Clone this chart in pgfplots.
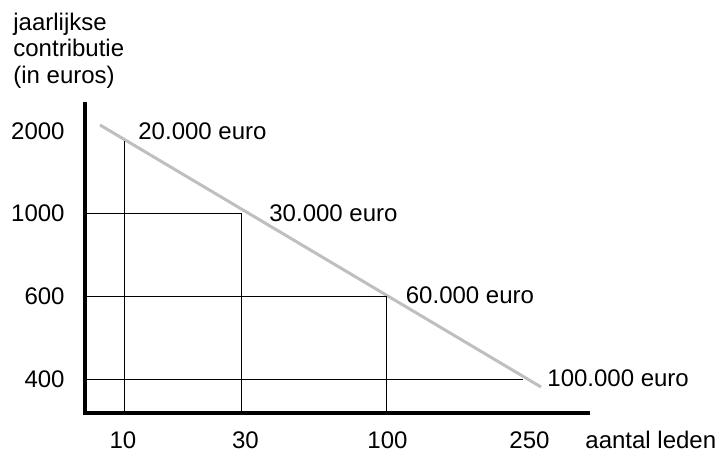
\documentclass[border=0pt]{standalone}
\usepackage{fontspec}
\setmainfont{Liberation Sans}
\usepackage{pgfplots}
\pgfplotsset{compat=1.18}

\begin{document}
\begin{tikzpicture}[font=\fontsize{12}{14.4}\selectfont]
\begin{axis}[
    x=0.5pt, y=0.5pt,
    xmin=85, xmax=588, ymin=38, ymax=347,
    axis lines=left,
    axis line style={-, line width=2pt, line cap=rect},
    clip=false,
    major tick length=0pt,
    xtick={123,245.5,387.5,529.5},
    xticklabels={10,30,100,250},
    ytick={320,238,155,72},
    yticklabels={2000,1000,600,400},
    ticklabel style={inner sep=0pt},
    xticklabel style={anchor=base, yshift=-17.75pt},
    yticklabel style={anchor=east, xshift=-10pt},
    /pgf/number format/assume math mode=true,
]
% grey line
\addplot[color=black!25, line width=1.5pt] coordinates {(100,326) (541,64)};
% helper lines
\addplot[black, line width=0.5pt] coordinates {(124,310) (124,38)};
\addplot[black, line width=0.5pt] coordinates {(85,238) (241,238) (241,38)};
\addplot[black, line width=0.5pt] coordinates {(85,155) (386,155) (386,38)};
\addplot[black, line width=0.5pt] coordinates {(85,72) (523,72)};

\node[anchor=west, inner sep=0pt] at (axis cs:138,320) {20.000 euro};
\node[anchor=west, inner sep=0pt] at (axis cs:269,238) {30.000 euro};
\node[anchor=west, inner sep=0pt] at (axis cs:405.5,156) {60.000 euro};
\node[anchor=west, inner sep=0pt] at (axis cs:547,73) {100.000 euro};

\node[anchor=base west, inner sep=0pt] at (axis cs:585,2.5) {aantal leden};
\node[anchor=base west, inner sep=0pt] at (axis cs:13,421) {jaarlijkse};
\node[anchor=base west, inner sep=0pt] at (axis cs:13,394.3) {contributie};
\node[anchor=base west, inner sep=0pt] at (axis cs:13,368) {(in euros)};

\coordinate (bl) at (axis cs:0,0);
\coordinate (tr) at (axis cs:717,451);
\end{axis}
\pgfresetboundingbox
\useasboundingbox (bl) rectangle (tr);
\end{tikzpicture}
\end{document}
